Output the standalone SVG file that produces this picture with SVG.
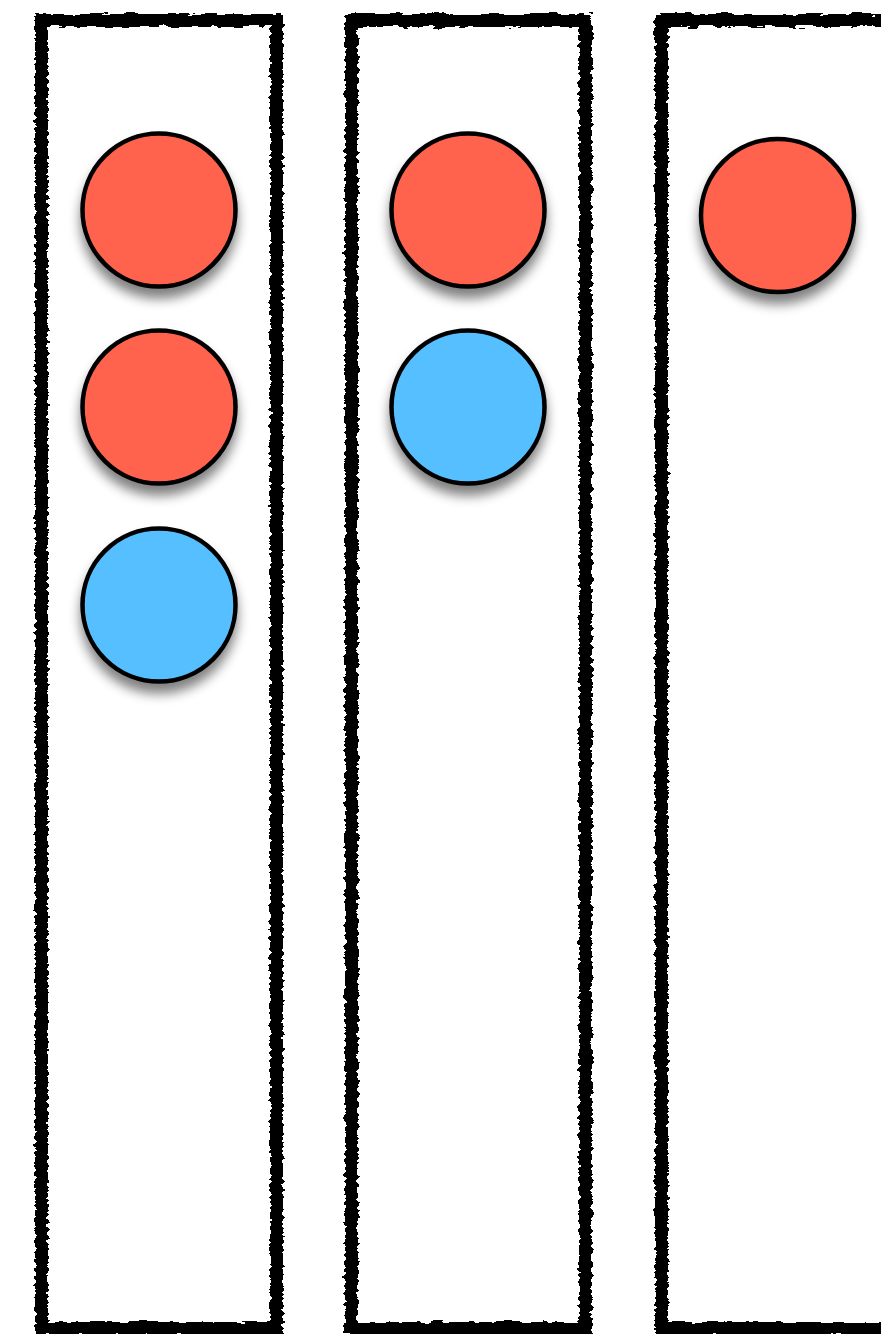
<svg xmlns="http://www.w3.org/2000/svg" width="881" height="1334" viewBox="0 0 881 1334">
<style>
.lane{fill:none;stroke:#000;stroke-width:13;filter:url(#rough)}
.node circle{stroke:#000;stroke-width:4.5;filter:url(#shadow)}
.red{fill:#FF634D}
.blue{fill:#55BFFF}
</style>
<defs>
<filter id="rough" x="-5%" y="-2%" width="110%" height="104%">
<feTurbulence type="fractalNoise" baseFrequency="0.06 0.25" numOctaves="3" seed="7" result="n"/>
<feDisplacementMap in="SourceGraphic" in2="n" scale="7" xChannelSelector="R" yChannelSelector="G"/>
</filter>
<filter id="shadow" x="-30%" y="-30%" width="160%" height="170%">
<feGaussianBlur in="SourceAlpha" stdDeviation="6"/>
<feOffset dy="10" result="b"/>
<feComponentTransfer><feFuncA type="linear" slope="0.5"/></feComponentTransfer>
<feMerge><feMergeNode/><feMergeNode in="SourceGraphic"/></feMerge>
</filter>
</defs>
<rect width="881" height="1334" fill="#fff"/>
<g id="lane1"><rect class="lane" x="41.5" y="20.5" width="235" height="1308"/></g>
<g id="lane2"><rect class="lane" x="351.5" y="20.5" width="234" height="1308"/></g>
<g id="lane3"><rect class="lane" x="661.5" y="20.5" width="260" height="1308"/></g>
<g id="n1" class="node"><circle class="red" cx="159" cy="210" r="76.5"/></g>
<g id="n2" class="node"><circle class="red" cx="159" cy="407" r="76.5"/></g>
<g id="n3" class="node"><circle class="blue" cx="159" cy="605" r="76.5"/></g>
<g id="n4" class="node"><circle class="red" cx="468" cy="210" r="76.5"/></g>
<g id="n5" class="node"><circle class="blue" cx="468" cy="407" r="76.5"/></g>
<g id="n6" class="node"><circle class="red" cx="777.5" cy="215.5" r="76.5"/></g>
<g id="connectors"/>
</svg>
